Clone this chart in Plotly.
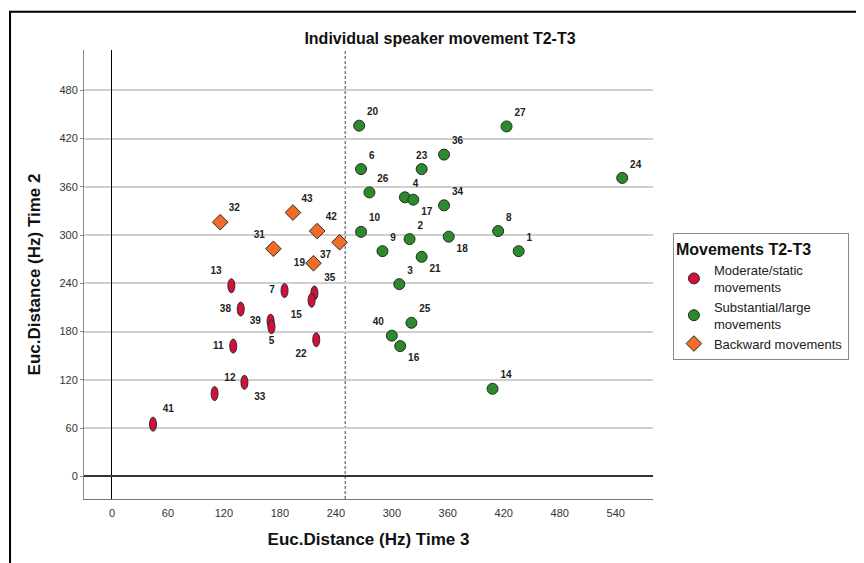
import plotly.graph_objects as go

# データ（Time 3 = x, Time 2 = y）
mod_ids = [41, 12, 33, 11, 38, 13, 39, 5, 7, 35, 15, 22]
mod_t3 = [44, 110, 142, 130, 138, 128, 170, 171, 185, 217, 214, 219]
mod_t2 = [65, 103, 117, 162, 208, 237, 193, 186, 231, 228, 219, 170]

sub_ids = [20, 6, 26, 10, 9, 2, 4, 17, 23, 36, 34, 18, 21, 3, 25, 40, 16, 14, 27, 8, 1, 24]
sub_t3 = [265, 267, 276, 267, 290, 319, 314, 323, 332, 356, 356, 361, 332, 308, 321, 300, 309, 408, 423, 414, 436, 547]
sub_t2 = [436, 382, 353, 304, 280, 295, 347, 344, 382, 400, 337, 298, 273, 239, 191, 175, 162, 109, 435, 305, 280, 371]

back_ids = [32, 31, 43, 42, 19, 37]
back_t3 = [116, 173, 194, 220, 216, 244]
back_t2 = [316, 283, 328, 305, 265, 291]

x_ticks = list(range(0, 541, 60))
y_ticks = list(range(0, 481, 60))
ref_line = 250

# ラベルの位置
label_pos = {
    41: "top right", 12: "top right", 33: "bottom right", 11: "middle left",
    38: "middle left", 13: "top left", 39: "middle left", 5: "bottom center",
    7: "middle left", 35: "top right", 15: "bottom left", 22: "bottom left",
    20: "top right", 6: "top right", 26: "top right", 10: "top right",
    9: "top right", 2: "top right", 4: "top right", 17: "bottom right",
    23: "top center", 36: "top right", 34: "top right", 18: "bottom right",
    21: "bottom right", 3: "top right", 25: "top right", 40: "top left",
    16: "bottom right", 14: "top right", 27: "top right", 8: "top right",
    1: "top right", 24: "top right",
    32: "top right", 31: "top left", 43: "top right", 42: "top right",
    19: "middle left", 37: "bottom left",
}

RED = "#d3103c"
GREEN = "#2b8a2b"
ORANGE = "#f26c28"
OUTLINE = "#2a2a2a"
LABEL_FONT = dict(family="Liberation Sans, Arial, sans-serif", size=10, color="#222222", weight="bold")
TITLE_FONT = "Liberation Sans, Arial, sans-serif"

fig = go.Figure()

# 楕円マーカー（赤）はシェイプで描く
shapes = []
for xv, yv in zip(mod_t3, mod_t2):
    shapes.append(dict(
        type="circle", xref="x", yref="y",
        xsizemode="pixel", ysizemode="pixel",
        xanchor=xv, yanchor=yv, x0=-3.5, x1=3.5, y0=-7, y1=7,
        fillcolor=RED, line=dict(color=OUTLINE, width=1), layer="above",
    ))

# 基準線（破線）
shapes.append(dict(type="line", xref="x", yref="paper", x0=ref_line, x1=ref_line,
                   y0=0, y1=1, line=dict(color="#444444", width=1, dash="3px,2px"), layer="below"))
# 外枠
shapes.append(dict(type="rect", xref="paper", yref="paper", x0=-0.13, x1=2, y0=-0.5, y1=1.085,
                   line=dict(color="black", width=2), layer="below"))

fig.add_trace(go.Scatter(
    x=mod_t3, y=mod_t2, mode="markers+text",
    text=[str(i) for i in mod_ids],
    textposition=[label_pos[i] for i in mod_ids],
    textfont=LABEL_FONT,
    marker=dict(size=14, color="rgba(0,0,0,0)"),
    showlegend=False, hoverinfo="x+y+text",
))
fig.add_trace(go.Scatter(
    x=[None], y=[None], mode="markers", name="Moderate/static<br>movements",
    marker=dict(symbol="circle", size=11, color=RED, line=dict(color=OUTLINE, width=1)),
))
fig.add_trace(go.Scatter(
    x=sub_t3, y=sub_t2, mode="markers+text", name="Substantial/large<br>movements",
    text=[str(i) for i in sub_ids],
    textposition=[label_pos[i] for i in sub_ids],
    textfont=LABEL_FONT,
    marker=dict(symbol="circle", size=11, color=GREEN, line=dict(color=OUTLINE, width=1)),
))
fig.add_trace(go.Scatter(
    x=back_t3, y=back_t2, mode="markers+text", name="Backward movements",
    text=[str(i) for i in back_ids],
    textposition=[label_pos[i] for i in back_ids],
    textfont=LABEL_FONT,
    marker=dict(symbol="diamond", size=12, color=ORANGE, line=dict(color=OUTLINE, width=1)),
))

# ページの余白(8px)を考慮したマージン
fig.update_layout(
    width=864, height=563,
    margin=dict(l=76, r=219, t=42, b=72),
    plot_bgcolor="white", paper_bgcolor="white",
    font=dict(family="Liberation Sans, Arial, sans-serif", color="#333333"),
    title=dict(text="Individual speaker movement T2-T3", x=0.5, xref="container",
               y=1 - 30 / 563, yanchor="middle",
               font=dict(family=TITLE_FONT, size=16, color="#111111", weight="bold")),
    shapes=shapes,
    legend=dict(
        title=dict(text="Movements T2-T3", font=dict(family=TITLE_FONT, size=16, color="#111111", weight="bold")),
        x=1.035, y=0.592, xanchor="left", yanchor="top",
        bordercolor="#888888", borderwidth=1, bgcolor="white",
        font=dict(family="Liberation Sans, Arial, sans-serif", size=13, color="#222222"),
        itemwidth=30, tracegroupgap=0,
    ),
)

fig.update_xaxes(
    range=[-30, 580], tickvals=x_ticks, showgrid=False,
    zeroline=True, zerolinecolor="black", zerolinewidth=1,
    showline=True, linecolor="#777777", linewidth=1,
    ticks="", ticklabelstandoff=4, tickfont=dict(size=11, color="#333333"),
    title=dict(text="<b>Euc.Distance (Hz) Time 3</b>", standoff=14,
               font=dict(family=TITLE_FONT, size=17, color="#111111")),
)
fig.update_yaxes(
    range=[-28, 530], tickvals=y_ticks, showgrid=True, gridcolor="#cfcfcf", gridwidth=1.5,
    zeroline=True, zerolinecolor="#333333", zerolinewidth=1.5,
    showline=True, linecolor="#888888", linewidth=1,
    ticks="outside", ticklen=3, tickcolor="#888888", tickfont=dict(size=11, color="#333333"),
    title=dict(text="<b>Euc.Distance (Hz) Time 2</b>", standoff=14,
               font=dict(family=TITLE_FONT, size=17, color="#111111")),
)

fig.write_html("out.html")
